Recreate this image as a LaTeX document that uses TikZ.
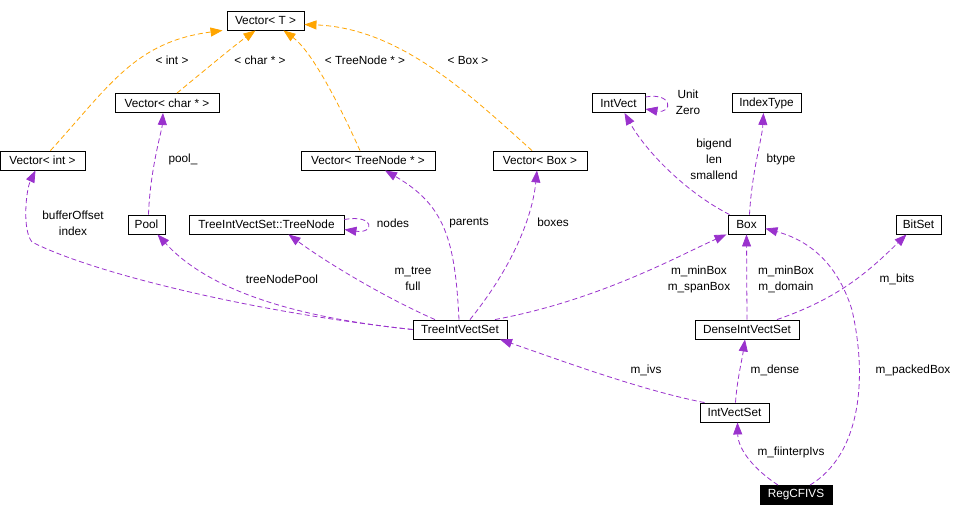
\documentclass[tikz,border=0pt]{standalone}
\usepackage{fontspec}
\setmainfont{Liberation Sans}
\usetikzlibrary{arrows.meta}
\definecolor{relc}{HTML}{9A32CD}
\definecolor{tmplc}{HTML}{FFA500}
\begin{document}
\begin{tikzpicture}[x=1pt,y=-1pt,
  cls/.style={draw=black,line width=0.9pt,fill=white,rectangle,inner sep=0pt,minimum height=19pt,font=\fontsize{11.8}{14}\selectfont},
  rel/.style={draw=relc,line width=0.8pt,dash pattern=on 5pt off 3pt,-{Triangle[length=12pt,width=9pt,fill=relc]}},
  tmpl/.style={draw=tmplc,line width=0.8pt,dash pattern=on 5pt off 3pt,-{Triangle[length=12pt,width=9pt,fill=tmplc]}},
  lbl/.style={inner sep=0pt,align=center,font=\fontsize{11.8}{16}\selectfont}]
\useasboundingbox[fill=white] (0,0) rectangle (970,517);
% classes
\node[cls,minimum width=77pt] (vT) at (265.5,20.5) {Vector< T >};
\node[cls,minimum width=104pt] (vchar) at (167,103) {Vector< char * >};
\node[cls,minimum width=85pt] (vint) at (42.5,160.5) {Vector< int >};
\node[cls,minimum width=134pt] (vtree) at (368,160.5) {Vector< TreeNode * >};
\node[cls,minimum width=94pt] (vbox) at (540,160.5) {Vector< Box >};
\node[cls,minimum width=53pt] (intvect) at (618.5,103) {IntVect};
\node[cls,minimum width=69pt] (indextype) at (766.5,103) {IndexType};
\node[cls,minimum width=37pt] (pool) at (146.5,224.5) {Pool};
\node[cls,minimum width=155pt] (treenode) at (266.5,224.5) {TreeIntVectSet::TreeNode};
\node[cls,minimum width=37pt] (box) at (746.5,224.5) {Box};
\node[cls,minimum width=45pt] (bitset) at (918.5,224.5) {BitSet};
\node[cls,minimum width=94pt] (tivs) at (460,329.5) {TreeIntVectSet};
\node[cls,minimum width=104pt] (divs) at (747,329.5) {DenseIntVectSet};
\node[cls,minimum width=69pt] (ivs) at (734.5,412.5) {IntVectSet};
\node[cls,minimum width=72pt,fill=black,text=white] (reg) at (796,495) {RegCFIVS};
% template edges
\draw[tmpl] ([xshift=8pt]vint.north) .. controls (110,85) and (135,42) .. ([xshift=-4pt]vT.south west);
\draw[tmpl] ([xshift=10pt]vchar.north) .. controls (205,70) and (235,45) .. ([xshift=-10pt]vT.south);
\draw[tmpl] ([xshift=-8pt]vtree.north) .. controls (335,95) and (310,50) .. ([xshift=18pt]vT.south);
\draw[tmpl] ([xshift=-8pt]vbox.north) .. controls (470,95) and (400,28) .. ([yshift=-4pt]vT.east);
% relation edges
\draw[rel] ([xshift=2pt]pool.north) .. controls (150,170) and (162,130) .. ([xshift=-4pt]vchar.south);
\draw[rel] (tivs.west) .. controls (250,312) and (90,272) .. (32,242) .. controls (22,230) and (26,190) .. ([xshift=-7pt]vint.south);
\draw[rel] (tivs.west) .. controls (300,318) and (210,292) .. ([xshift=11pt]pool.south);
\draw[rel] ([xshift=-25pt]tivs.north) .. controls (390,300) and (330,265) .. ([xshift=22pt]treenode.south);
\draw[rel] ([yshift=5pt]treenode.east) .. controls (375,214) and (375,234) .. ([yshift=-5pt]treenode.east);
\draw[rel] ([xshift=-1pt]tivs.north) .. controls (455,240) and (445,205) .. ([xshift=17pt]vtree.south);
\draw[rel] ([xshift=10pt]tivs.north) .. controls (510,270) and (532,220) .. ([xshift=-3pt]vbox.south);
\draw[rel] ([xshift=35pt]tivs.north) .. controls (600,300) and (680,255) .. ([xshift=-1pt]box.south west);
\draw[rel] (divs.north) -- (box.south);
\draw[rel] ([xshift=30pt]divs.north) .. controls (840,298) and (870,270) .. ([xshift=-12pt]bitset.south);
\draw[rel] ([xshift=-30pt]ivs.north) .. controls (640,390) and (560,360) .. ([xshift=40pt]tivs.south);
\draw[rel] ([xshift=1pt]ivs.north) .. controls (737,380) and (742,360) .. ([xshift=-2pt]divs.south);
\draw[rel] ([xshift=-18pt]reg.north) .. controls (755,470) and (738,450) .. ([xshift=3pt]ivs.south);
\draw[rel] ([xshift=14pt]reg.north) .. controls (860,455) and (868,380) .. (852,310) .. controls (835,255) and (800,238) .. ([yshift=-4pt]box.east);
\draw[rel] ([xshift=2pt]box.north west) .. controls (685,192) and (645,150) .. ([xshift=6pt]intvect.south);
\draw[rel] ([xshift=3pt]box.north) .. controls (752,170) and (762,140) .. ([xshift=-3pt]indextype.south);
\draw[rel] ([yshift=6pt]intvect.east) .. controls (673,92) and (673,114) .. ([yshift=-6pt]intvect.east);
% labels
\node[lbl] (l1) at (172,60) {< int >};
\node[lbl] (l2) at (260,60) {< char * >};
\node[lbl] (l3) at (365,60) {< TreeNode * >};
\node[lbl] (l4) at (468,60) {< Box >};
\node[lbl] (l5) at (183,159) {pool\_};
\node[lbl] (l6) at (73,223) {bufferOffset\\index};
\node[lbl] (l7) at (393,223) {nodes};
\node[lbl] (l8) at (469,223) {parents};
\node[lbl] (l9) at (553,222) {boxes};
\node[lbl] (l10) at (282,279) {treeNodePool};
\node[lbl] (l11) at (413,279) {m\_tree\\full};
\node[lbl] (l12) at (688,102) {Unit\\Zero};
\node[lbl] (l13) at (714,159) {bigend\\len\\smallend};
\node[lbl] (l14) at (781,159) {btype};
\node[lbl] (l15) at (699,279) {m\_minBox\\m\_spanBox};
\node[lbl] (l16) at (786,279) {m\_minBox\\m\_domain};
\node[lbl] (l17) at (897,279) {m\_bits};
\node[lbl] (l18) at (646,370) {m\_ivs};
\node[lbl] (l19) at (775,370) {m\_dense};
\node[lbl] (l20) at (913,370) {m\_packedBox};
\node[lbl] (l21) at (791,452) {m\_fiinterpIvs};
\end{tikzpicture}
\end{document}
